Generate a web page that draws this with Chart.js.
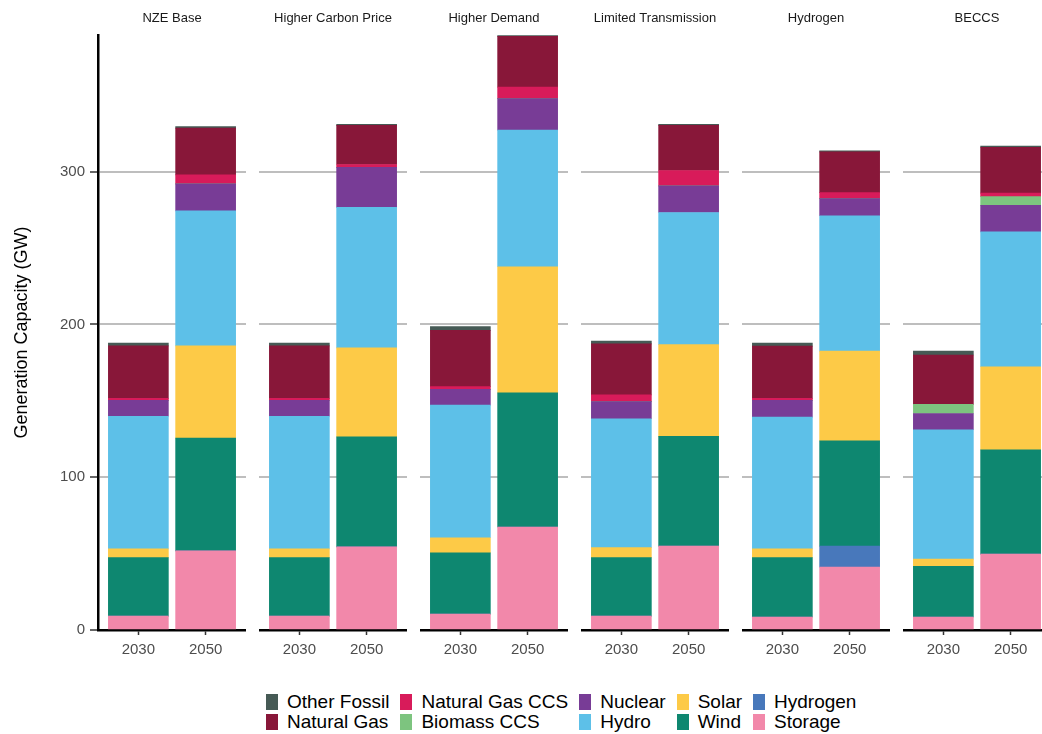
<!DOCTYPE html>
<html>
<head>
<meta charset="utf-8">
<script src="https://cdn.jsdelivr.net/npm/chart.js@4.4.1/dist/chart.umd.min.js"></script>
<style>
  body { margin: 0; background: #fff; }
  #wrap { position: relative; width: 1042px; height: 734px; overflow: hidden; font-family: "Liberation Sans", Arial, sans-serif; }
  .panel { position: absolute; top: 0; }
  #legend { position: absolute; left: 266px; top: 692px; display: flex; gap: 11px; }
  .col { display: flex; flex-direction: column; }
  .item { display: flex; align-items: center; height: 20px; font-size: 19px; color: #000; white-space: nowrap; }
  .key { width: 12px; height: 16px; margin-right: 9px; flex: none; }
</style>
</head>
<body>
<div id="wrap">
  <div id="legend"></div>
</div>
<script>
// facets and x categories
const scenarios = ["NZE Base", "Higher Carbon Price", "Higher Demand", "Limited Transmission", "Hydrogen", "BECCS"];
const years = ["2030", "2050"];
const yTicks = [0, 100, 200, 300];
const yMax = 389.5;

// capacity in GW, one value per scenario x year (NZE 2030, NZE 2050, HCP 2030, ...)
const storage       = [9.1, 51.8, 9.1, 54.4, 10.4, 67.4, 9.1, 54.9, 8.5, 41.2, 8.5, 49.7];
const hydrogen      = [0, 0, 0, 0, 0, 0, 0, 0, 0, 13.7, 0, 0];
const wind          = [38.3, 73.8, 38.3, 72.0, 40.1, 87.8, 38.3, 71.8, 38.9, 68.9, 33.2, 68.2];
const solar         = [5.7, 60.4, 5.7, 58.3, 9.9, 82.6, 6.5, 60.1, 5.7, 58.8, 4.7, 54.4];
const hydro         = [86.8, 88.4, 86.8, 92.0, 86.8, 89.4, 84.4, 86.5, 86.3, 88.6, 84.7, 88.3];
const nuclear       = [10.4, 17.6, 10.4, 26.1, 10.3, 20.7, 11.2, 17.4, 10.9, 11.2, 10.6, 17.4];
const biomassCCS    = [0, 0, 0, 0, 0, 0, 0, 0, 0, 0, 6.0, 5.7];
const naturalGasCCS = [1.3, 5.9, 1.3, 1.9, 1.8, 7.5, 4.4, 10.1, 1.3, 3.9, 0, 2.3];
const naturalGas    = [34.4, 30.6, 34.4, 25.6, 36.8, 33.2, 33.4, 29.5, 34.2, 26.7, 32.3, 30.0];
const otherFossil   = [1.8, 1.0, 1.8, 0.8, 2.6, 0.5, 1.8, 0.8, 2.0, 0.7, 2.6, 0.8];

// stack order, bottom to top
const techs = ["Storage", "Hydrogen", "Wind", "Solar", "Hydro", "Nuclear", "Biomass CCS", "Natural Gas CCS", "Natural Gas", "Other Fossil"];
const series = [storage, hydrogen, wind, solar, hydro, nuclear, biomassCCS, naturalGasCCS, naturalGas, otherFossil];
const colors = ["#f288aa", "#4878bb", "#0e8770", "#fdca47", "#5dc0e8", "#783c96", "#7dc47f", "#d81b5a", "#881739", "#465a55"];

Chart.defaults.font.family = '"Liberation Sans", Arial, sans-serif';

// facet strip title, centred over the plot area
const facetTitle = {
  id: "facetTitle",
  afterDraw(chart, args, opts) {
    const { ctx, chartArea } = chart;
    ctx.save();
    ctx.font = '13px "Liberation Sans", Arial, sans-serif';
    ctx.fillStyle = "#1a1a1a";
    ctx.textAlign = "center";
    ctx.textBaseline = "middle";
    ctx.fillText(opts.text, (chartArea.left + chartArea.right) / 2, 18);
    ctx.restore();
  },
};

const wrap = document.getElementById("wrap");

scenarios.forEach((name, i) => {
  const first = i === 0;
  const left = first ? 0 : 98 + 161 * i;
  const width = first ? 246 : 148;

  const div = document.createElement("div");
  div.className = "panel";
  div.style.left = left + "px";
  const canvas = document.createElement("canvas");
  canvas.width = width;
  canvas.height = 680;
  canvas.style.width = width + "px";
  canvas.style.height = "680px";
  div.appendChild(canvas);
  wrap.appendChild(div);

  new Chart(canvas, {
    type: "bar",
    data: {
      datasets: techs.map((t, k) => ({
        label: t,
        data: years.map((y, j) => ({ x: j, y: series[k][i * 2 + j] })),
        backgroundColor: colors[k],
        borderWidth: 0,
        barThickness: 60,
      })),
    },
    options: {
      responsive: false,
      animation: false,
      layout: { padding: { top: 35, left: 0, right: 0, bottom: 0 } },
      plugins: {
        legend: { display: false },
        tooltip: { enabled: false },
        facetTitle: { text: name },
      },
      scales: {
        x: {
          type: "linear",
          stacked: true,
          offset: false,
          min: -0.6,
          max: 1.6,
          afterBuildTicks: (s) => { s.ticks = [{ value: 0 }, { value: 1 }]; },
          afterFit: (s) => { s.height = 50; },
          ticks: {
            callback: (v) => years[v],
            color: "#4d4d4d",
            font: { size: 15 },
            padding: 6,
            maxRotation: 0,
            autoSkip: false,
          },
          grid: { display: true, drawOnChartArea: false, drawTicks: true, tickLength: 5, tickColor: "#333", tickWidth: 1.5, offset: false },
          border: { display: true, color: "#000", width: 2.5 },
        },
        y: {
          stacked: true,
          min: 0,
          max: yMax,
          afterBuildTicks: (s) => { s.ticks = yTicks.map((v) => ({ value: v })); },
          afterFit: (s) => { s.width = first ? 98 : 0; },
          ticks: { display: first, color: "#4d4d4d", font: { size: 15 }, padding: 5 },
          grid: {
            color: (c) => (c.tick && c.tick.value === 0 ? "rgba(0,0,0,0)" : "#bebebe"),
            lineWidth: 2,
            drawTicks: first,
            tickLength: 8,
            tickColor: "#333",
            tickWidth: 1.5,
          },
          border: { display: first, color: "#000", width: 2.5 },
          title: {
            display: first,
            text: "Generation Capacity (GW)",
            color: "#000",
            font: { size: 18 },
            padding: { top: 11, bottom: 0 },
          },
        },
      },
    },
    plugins: [facetTitle],
  });
});

// legend: two rows, filled column by column, top of the stack first
const legendOrder = techs.slice().reverse();
const legendColors = colors.slice().reverse();
const legend = document.getElementById("legend");
for (let c = 0; c < legendOrder.length; c += 2) {
  const col = document.createElement("div");
  col.className = "col";
  [c, c + 1].forEach((k) => {
    const item = document.createElement("div");
    item.className = "item";
    item.innerHTML = '<span class="key" style="background:' + legendColors[k] + '"></span>' + legendOrder[k];
    col.appendChild(item);
  });
  legend.appendChild(col);
}
</script>
</body>
</html>
